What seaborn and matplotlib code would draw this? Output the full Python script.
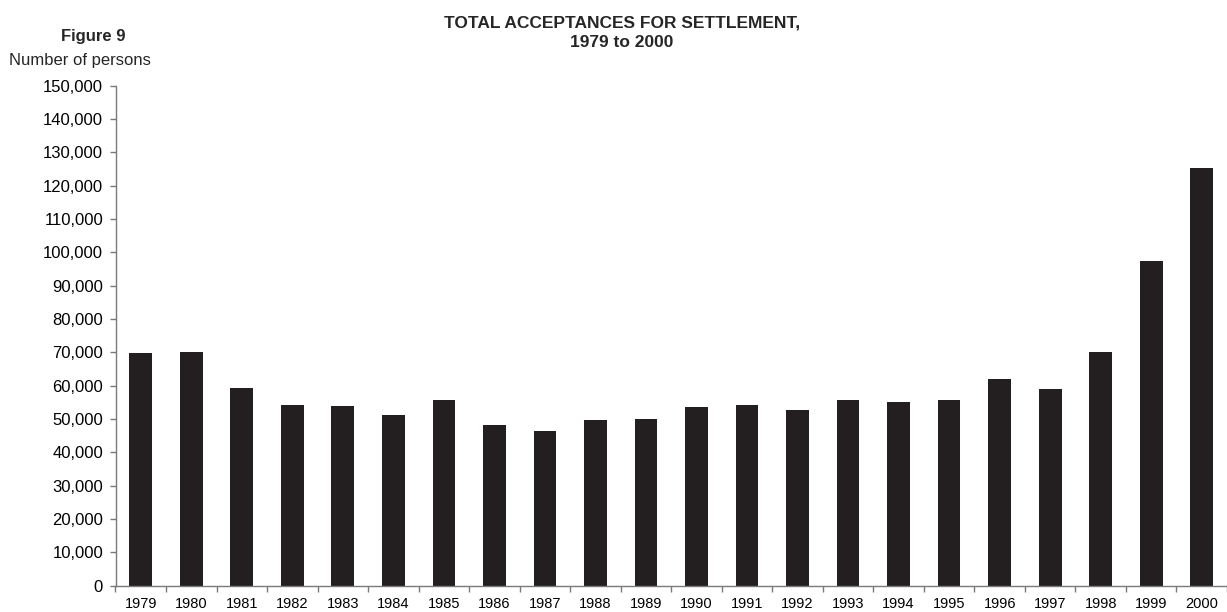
import numpy as np
import pandas as pd
import matplotlib
matplotlib.use("Agg")
import matplotlib.pyplot as plt
import seaborn as sns
from matplotlib.ticker import FuncFormatter, MultipleLocator

years = [str(y) for y in range(1979, 2001)]
acceptances = [69800, 70000, 59400, 54200, 53800, 51300, 55600, 48200, 46400, 49600,
               50000, 53600, 54200, 52700, 55700, 55200, 55600, 61900, 58900, 70000,
               97300, 125400]

TITLE = "TOTAL ACCEPTANCES FOR SETTLEMENT,\n1979 to 2000"
BAR_COLOR = "#231f20"
AXIS_COLOR = "#7a7a7a"

sns.set_theme(style="white")
plt.rcParams["font.family"] = ["Liberation Sans", "DejaVu Sans"]

df = pd.DataFrame({"year": years, "persons": acceptances})

fig = plt.figure(figsize=(12.27, 6.12), dpi=100)
ax = fig.add_axes([115.5 / 1227, 26.5 / 612, (1227 - 115.5) / 1227, 500 / 612])

sns.barplot(data=df, x="year", y="persons", color=BAR_COLOR, saturation=1,
            width=0.45, ax=ax)
for p in ax.patches:
    p.set_edgecolor("none")

ax.set_xlim(-0.5, 21.35)
ax.set_ylim(0, 150000)
ax.yaxis.set_major_locator(MultipleLocator(10000))
ax.yaxis.set_major_formatter(FuncFormatter(lambda v, _: f"{int(v):,}"))

# category separators as small ticks below the axis
ax.set_xticks(np.arange(-0.5, 22, 1), minor=True)
ax.tick_params(axis="x", which="major", bottom=False, length=0, pad=8,
               labelsize=10.5, labelcolor="black")
ax.tick_params(axis="x", which="minor", bottom=True, length=4, width=1,
               color=AXIS_COLOR, direction="out")
ax.tick_params(axis="y", which="major", left=True, length=4, width=1, color=AXIS_COLOR,
               direction="out", pad=5, labelsize=12, labelcolor="black")

ax.set_xlabel("")
ax.set_ylabel("")
for side in ["top", "right"]:
    ax.spines[side].set_visible(False)
for side in ["left", "bottom"]:
    ax.spines[side].set_color(AXIS_COLOR)
    ax.spines[side].set_linewidth(1)

fig.text(622 / 1227, 1 - 16 / 612, TITLE, ha="center", va="top", fontsize=12.5,
         fontweight="bold", linespacing=1.3)
fig.text(93 / 1227, 1 - 37 / 612, "Figure 9", ha="center", va="center", fontsize=12,
         fontweight="bold")
fig.text(80 / 1227, 1 - 61 / 612, "Number of persons", ha="center", va="center", fontsize=12)

fig.savefig("out.png", dpi=100)
